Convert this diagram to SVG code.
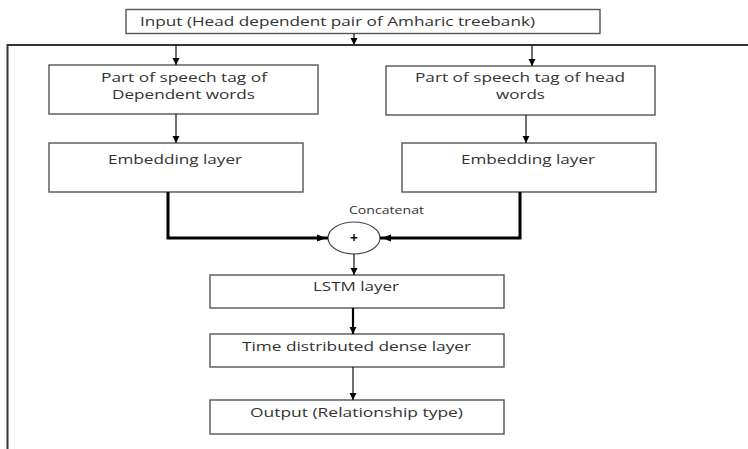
<svg xmlns="http://www.w3.org/2000/svg" width="748" height="449" viewBox="0 0 748 449">
<defs>
<style>
.box{fill:#fff;stroke:#555;stroke-width:1.4}
.t{font-family:"Open Sans","Liberation Sans",sans-serif;font-size:13px;fill:#333}
.ln{fill:none;stroke:#111;stroke-width:1.2}
.thick{fill:none;stroke:#000;stroke-width:3}
</style>
<marker id="ah" markerWidth="8" markerHeight="8" refX="7" refY="4" orient="auto" markerUnits="userSpaceOnUse">
<path d="M0,0.5 L7,4 L0,7.5 Z" fill="#000"/>
</marker>
<marker id="ahb" markerWidth="12" markerHeight="10" refX="11" refY="5" orient="auto" markerUnits="userSpaceOnUse">
<path d="M0,1.5 L9,5 L0,8.5 Z" fill="#000"/>
<circle cx="1.5" cy="5" r="2.5" fill="#000"/>
</marker>
</defs>
<rect width="748" height="449" fill="#fff"/>
<g id="input">
<rect class="box" x="126" y="9.5" width="474" height="24"/>
<text class="t" x="140" y="26" textLength="395" lengthAdjust="spacingAndGlyphs">Input (Head dependent pair of Amharic treebank)</text>
</g>
<g id="pos-dep">
<rect class="box" x="49" y="65" width="269" height="49"/>
<text class="t" x="101" y="82" textLength="166" lengthAdjust="spacingAndGlyphs">Part of speech tag of</text>
<text class="t" x="112" y="99" textLength="143" lengthAdjust="spacingAndGlyphs">Dependent words</text>
</g>
<g id="pos-head">
<rect class="box" x="386" y="66" width="269" height="49"/>
<text class="t" x="415" y="82" textLength="210" lengthAdjust="spacingAndGlyphs">Part of speech tag of head</text>
<text class="t" x="496" y="99" textLength="49" lengthAdjust="spacingAndGlyphs">words</text>
</g>
<g id="emb-dep">
<rect class="box" x="49" y="143" width="254" height="49"/>
<text class="t" x="108" y="164" textLength="134" lengthAdjust="spacingAndGlyphs">Embedding layer</text>
</g>
<g id="emb-head">
<rect class="box" x="402" y="143" width="254" height="49"/>
<text class="t" x="461" y="164" textLength="134" lengthAdjust="spacingAndGlyphs">Embedding layer</text>
</g>
<g id="concat">
<ellipse cx="354" cy="238" rx="26" ry="16" fill="#fff" stroke="#444" stroke-width="1.2"/>
<text class="t" x="354" y="243" text-anchor="middle" style="font-size:14px;font-weight:bold;fill:#111">+</text>
<text class="t" x="349" y="214" textLength="75" lengthAdjust="spacingAndGlyphs" style="font-size:10px">Concatenat</text>
</g>
<g id="lstm">
<rect class="box" x="210" y="275" width="294" height="33"/>
<text class="t" x="313" y="291" textLength="86" lengthAdjust="spacingAndGlyphs">LSTM layer</text>
</g>
<g id="dense">
<rect class="box" x="210" y="334" width="294" height="33"/>
<text class="t" x="242" y="351" textLength="229" lengthAdjust="spacingAndGlyphs">Time distributed dense layer</text>
</g>
<g id="output">
<rect class="box" x="210" y="400" width="294" height="34"/>
<text class="t" x="250" y="417" textLength="213" lengthAdjust="spacingAndGlyphs">Output (Relationship type)</text>
</g>
<g id="connectors">
<line class="ln" x1="354" y1="33.5" x2="354" y2="45" marker-end="url(#ah)"/>
<polyline fill="none" stroke="#333" stroke-width="2" points="7.5,449 7.5,45 748,45"/>
<line class="ln" x1="176" y1="45" x2="176" y2="65" marker-end="url(#ah)"/>
<line class="ln" x1="532" y1="45" x2="532" y2="66" marker-end="url(#ah)"/>
<line class="ln" x1="176" y1="114" x2="176" y2="143" marker-end="url(#ah)"/>
<line class="ln" x1="526" y1="115" x2="526" y2="143" marker-end="url(#ah)"/>
<polyline class="thick" points="168,192 168,238 328,238" marker-end="url(#ahb)"/>
<polyline class="thick" points="520,192 520,238 380,238" marker-end="url(#ahb)"/>
<line class="ln" x1="354" y1="254" x2="354" y2="275" marker-end="url(#ah)"/>
<line x1="353" y1="308" x2="353" y2="334" stroke="#000" stroke-width="2.2" marker-end="url(#ah)"/>
<line class="ln" x1="353" y1="367" x2="353" y2="400" marker-end="url(#ah)"/>
</g>
</svg>
